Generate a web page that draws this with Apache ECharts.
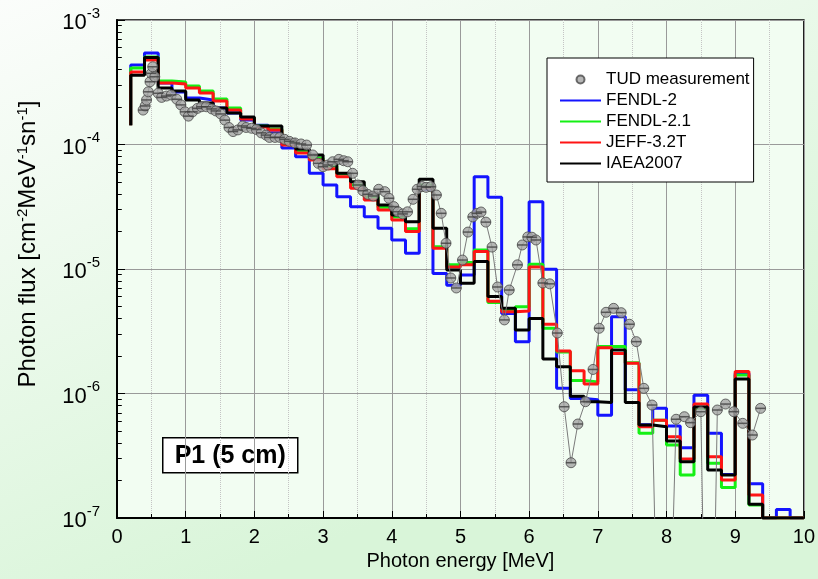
<!DOCTYPE html>
<html><head><meta charset="utf-8">
<script src="https://cdn.jsdelivr.net/npm/echarts@6/dist/echarts.min.js"></script>
<style>html,body{margin:0;padding:0;background:#fff}#c{width:818px;height:579px}</style>
</head><body><div id="c"></div>
<script>
// ---------- data ----------
const binEdges = [0.2,0.4,0.6,0.8,1.0,1.2,1.4,1.6,1.8,2.0,2.2,2.4,2.6,2.8,3.0,3.2,3.4,3.6,3.8,4.0,4.2,4.4,4.6,4.8,5.0,5.2,5.4,5.6,5.8,6.0,6.2,6.4,6.6,6.8,7.0,7.2,7.4,7.6,7.8,8.0,8.2,8.4,8.6,8.8,9.0,9.2,9.4,9.6,9.8,10.0];
const startFlux = 1.43e-4;
const fendl2 = [4.35e-4,5.43e-4,3.12e-4,2.64e-4,2.36e-4,2.28e-4,1.96e-4,1.79e-4,1.57e-4,1.43e-4,1.24e-4,9.37e-5,7.97e-5,5.87e-5,4.73e-5,3.81e-5,3.16e-5,2.63e-5,2.12e-5,1.71e-5,1.34e-5,4.37e-5,9.2e-6,7.4e-6,8.95e-6,5.5e-5,3.77e-5,4.4e-6,2.6e-6,3.47e-5,9.95e-6,1.1e-6,9.1e-7,8.9e-7,6.7e-7,4.14e-6,1.07e-6,5.6e-7,7.6e-7,5.48e-7,3.67e-7,9.7e-7,4.79e-7,2.24e-7,1.45e-6,1.88e-7,1e-7,1.17e-7,1e-7];
const fendl21 = [4.12e-4,5.04e-4,3.24e-4,3.18e-4,2.95e-4,2.69e-4,2.32e-4,1.96e-4,1.63e-4,1.41e-4,1.33e-4,1.05e-4,8.87e-5,7.79e-5,6.72e-5,5.79e-5,4.73e-5,3.79e-5,3.14e-5,2.62e-5,2.11e-5,4.73e-5,1.51e-5,1.08e-5,1.13e-5,1.42e-5,5.37e-6,4.7e-6,4.98e-6,1.09e-5,3.34e-6,2.15e-6,1.27e-6,1.24e-6,2.38e-6,2.38e-6,1.77e-6,4.79e-7,6.1e-7,3.86e-7,2.21e-7,7.6e-7,2.75e-7,1.76e-7,1.41e-6,1.27e-7,1e-7,1e-7,1e-7];
const jeff32t = [3.82e-4,4.77e-4,3.12e-4,3.06e-4,2.84e-4,2.59e-4,2.24e-4,1.89e-4,1.6e-4,1.38e-4,1.31e-4,9.9e-5,8.55e-5,7.5e-5,6.4e-5,5.5e-5,4.45e-5,3.58e-5,2.98e-5,2.48e-5,2.0e-5,4.5e-5,1.47e-5,1.04e-5,1.08e-5,1.38e-5,5.5e-6,4.54e-6,4.6e-6,1.04e-5,3.6e-6,2.19e-6,1.52e-6,1.19e-6,2.33e-6,2.1e-6,1.75e-6,5.4e-7,6.1e-7,4.5e-7,2.98e-7,8.25e-7,3.1e-7,2.02e-7,1.5e-6,1.53e-7,1e-7,1e-7,1e-7];
const iaea2007 = [3.6e-4,5.0e-4,2.84e-4,2.69e-4,2.28e-4,2.15e-4,1.96e-4,1.79e-4,1.66e-4,1.41e-4,1.41e-4,1.09e-4,9.2e-5,8.24e-5,7.06e-5,5.87e-5,5.03e-5,4.06e-5,3.27e-5,2.72e-5,2.4e-5,5.25e-5,2.12e-5,9.8e-6,7.7e-6,1.15e-5,6.0e-6,4.83e-6,3.24e-6,4.0e-6,1.89e-6,1.64e-6,9.5e-7,8.6e-7,8.45e-7,2.24e-6,8.45e-7,5.58e-7,5.4e-7,4.15e-7,2.83e-7,7.8e-7,2.43e-7,2.21e-7,1.31e-6,1.29e-7,1e-7,1e-7,1e-7];
const tudEnergy = [0.38,0.41,0.43,0.455,0.48,0.50,0.52,0.55,0.60,0.65,0.72,0.79,0.87,0.93,0.99,1.04,1.10,1.17,1.23,1.30,1.38,1.44,1.51,1.57,1.63,1.69,1.76,1.83,1.88,1.96,2.03,2.10,2.17,2.22,2.30,2.37,2.44,2.51,2.59,2.68,2.76,2.85,2.93,3.00,3.07,3.14,3.23,3.30,3.36,3.43,3.51,3.58,3.65,3.73,3.81,3.90,3.96,4.03,4.09,4.16,4.23,4.31,4.37,4.44,4.50,4.57,4.65,4.72,4.79,4.86,4.94,5.03,5.11,5.18,5.24,5.30,5.37,5.46,5.54,5.64,5.71,5.83,5.90,5.98,6.04,6.10,6.20,6.30,6.41,6.51,6.61,6.71,6.82,6.93,7.02,7.12,7.23,7.34,7.46,7.56,7.67,7.79,7.95,8.14,8.26,8.35,8.50,8.62,8.74,8.86,8.98,9.11,9.25,9.37];
const tudFlux = [1.89e-4,2.04e-4,2.28e-4,2.65e-4,3.19e-4,3.73e-4,4.21e-4,3.50e-4,2.58e-4,2.39e-4,2.45e-4,2.50e-4,2.31e-4,2.08e-4,1.83e-4,1.69e-4,1.83e-4,1.95e-4,2.01e-4,2.01e-4,1.93e-4,1.86e-4,1.76e-4,1.57e-4,1.37e-4,1.27e-4,1.31e-4,1.41e-4,1.37e-4,1.35e-4,1.32e-4,1.24e-4,1.19e-4,1.14e-4,1.14e-4,1.14e-4,1.10e-4,1.06e-4,1.03e-4,1.01e-4,9.9e-5,8.24e-5,7.06e-5,6.63e-5,6.84e-5,7.27e-5,7.60e-5,7.41e-5,7.27e-5,5.87e-5,4.73e-5,4.25e-5,3.98e-5,3.86e-5,4.37e-5,4.18e-5,3.70e-5,3.17e-5,2.88e-5,2.77e-5,2.88e-5,3.63e-5,4.37e-5,4.6e-5,4.53e-5,4.58e-5,3.93e-5,2.80e-5,1.61e-5,8.47e-6,7.04e-6,1.18e-5,1.98e-5,2.62e-5,2.8e-5,2.87e-5,2.38e-5,1.50e-5,7.17e-6,3.90e-6,6.78e-6,1.08e-5,1.56e-5,1.81e-5,1.8e-5,1.71e-5,7.72e-6,7.6e-6,3.06e-6,7.83e-7,2.78e-7,5.69e-7,8.59e-7,1.56e-6,3.34e-6,4.49e-6,4.83e-6,4.46e-6,3.60e-6,2.61e-6,1.10e-6,8.08e-7,1e-10,6.21e-7,6.51e-7,5.83e-7,7.14e-7,1e-10,7.37e-7,8.23e-7,7.14e-7,5.76e-7,4.64e-7,7.6e-7];
const xTickLabels = ['0','1','2','3','4','5','6','7','8','9','10'];
const yExponents = [-7,-6,-5,-4,-3];

// ---------- build ----------
const FONT = '"Liberation Sans", Arial, Helvetica, sans-serif';
function hist(vals){
  const pts = [[binEdges[0], startFlux]];
  vals.forEach((v,i)=>pts.push([binEdges[i], v]));
  pts.push([binEdges[binEdges.length-1], vals[vals.length-1]]);
  return pts;
}
const tudLine = tudEnergy.map((e,i)=>[e, tudFlux[i]]);
const tudPts = tudLine.filter(p=>p[1] >= 1e-7);

const minorVals = [];
for (let k=0;k<yExponents.length-1;k++){
  for (let m=2;m<=9;m++) minorVals.push(m*Math.pow(10, yExponents[k]));
}

function histSeries(name, vals, color, z){
  return {name, type:'line', data:hist(vals), step:'end', symbol:'none', showSymbol:false,
    lineStyle:{color, width:3}, itemStyle:{color}, z, animation:false, clip:true};
}
const hideSym = {opacity:0};

const chart = echarts.init(document.getElementById('c'), null, {renderer:'canvas'});
chart.setOption({
  animation:false,
  backgroundColor:{type:'linear',x:0,y:0,x2:0.3,y2:1,colorStops:[{offset:0,color:'#fbfdfb'},{offset:1,color:'#d9f5d9'}]},
  textStyle:{fontFamily:FONT},
  grid:{left:117,right:13,top:20,bottom:61,show:true,backgroundColor:'#f2fdf2',borderColor:'#000',borderWidth:1.5},
  legend:{
    orient:'vertical', left:547, top:58, padding:[13,4,10,12], itemGap:4, itemWidth:41, itemHeight:8,
    backgroundColor:'#fff', borderColor:'#000', borderWidth:1, selectedMode:false,
    textStyle:{fontSize:17, color:'#000', fontFamily:FONT},
    data:[
      {name:'TUD measurement'},
      {name:'FENDL-2', itemStyle:hideSym},
      {name:'FENDL-2.1', itemStyle:hideSym},
      {name:'JEFF-3.2T', itemStyle:hideSym},
      {name:'IAEA2007', itemStyle:hideSym}
    ]
  },
  xAxis:{
    type:'value', min:0, max:10, interval:1,
    name:'Photon energy [MeV]', nameLocation:'middle', nameGap:33,
    nameTextStyle:{fontSize:20, color:'#000', fontFamily:FONT},
    axisLine:{lineStyle:{color:'#000', width:2}},
    axisTick:{inside:true, length:7, lineStyle:{color:'#000', width:1}},
    minorTick:{show:true, splitNumber:2, length:4, lineStyle:{color:'#000'}},
    axisLabel:{fontSize:20, color:'#000', margin:9, formatter:(v)=>xTickLabels[Math.round(v)]},
    splitLine:{show:true, lineStyle:{color:'#9a9a9a', width:1}},
    minorSplitLine:{show:true, lineStyle:{color:'#c4c4c4', type:'dotted', width:1}}
  },
  yAxis:{
    type:'log', logBase:10, min:1e-7, max:1e-3, splitNumber:4,
    axisLine:{lineStyle:{color:'#000', width:2}},
    axisTick:{inside:true, length:8, lineStyle:{color:'#000', width:1}},
    axisLabel:{color:'#000', margin:17, formatter:(v)=>'{b|10}{s|' + Math.round(Math.log10(v)) + '}',
      rich:{b:{fontSize:22, lineHeight:28, verticalAlign:'bottom', fontFamily:FONT},
            s:{fontSize:15, lineHeight:28, verticalAlign:'top', fontFamily:FONT}}},
    splitLine:{show:true, lineStyle:{color:'#9a9a9a', width:1}}
  },
  graphic:[
    {type:'group', left:162, top:437, children:[
      {type:'rect', shape:{x:0,y:0,width:135,height:35}, style:{fill:'#fff', stroke:'#000', lineWidth:1.5}},
      {type:'text', x:67.5, y:18, style:{text:'P1 (5 cm)', font:'bold 25px '+FONT, fill:'#000', align:'center', verticalAlign:'middle'}}
    ]},
    {type:'text', x:28, y:244, rotation:Math.PI/2,
      style:{text:'Photon flux [cm{s|-2}MeV{s|-1}sn{s|-1}]', fontSize:24, fontFamily:FONT, fill:'#000',
        align:'center', verticalAlign:'middle',
        rich:{s:{fontSize:15, verticalAlign:'top', lineHeight:26, fontFamily:FONT}}}}
  ],
  series:[
    {type:'line', data:[], z:1, silent:true, symbol:'none',
      markLine:{silent:true, symbol:'none', animation:false, label:{show:false},
        lineStyle:{color:'#c4c4c4', type:'dotted', width:1},
        data: minorVals.map(v=>({yAxis:v}))
          .concat(minorVals.map(v=>[{coord:[0,v], lineStyle:{color:'#000', type:'solid', width:1}},{coord:[0.07,v]}]))}},
    histSeries('FENDL-2', fendl2, '#1414ff', 3),
    histSeries('FENDL-2.1', fendl21, '#14f014', 4),
    histSeries('JEFF-3.2T', jeff32t, '#ff1414', 5),
    histSeries('IAEA2007', iaea2007, '#000000', 6),
    {name:'tud-line', type:'line', data:tudLine, symbol:'none', showSymbol:false,
      lineStyle:{color:'#7a7a7a', width:1}, z:7, clip:true, animation:false},
    {name:'TUD measurement', type:'scatter', data:tudPts, symbol:'circle', symbolSize:10,
      itemStyle:{color:'#a4a4a4', borderColor:'#4a4a4a', borderWidth:1}, z:8, clip:true, animation:false},
    {name:'tud-bar', type:'scatter', data:tudPts, symbol:'rect', symbolSize:[10,1.5],
      itemStyle:{color:'#404040'}, z:9, clip:true, animation:false, silent:true}
  ]
});
</script></body></html>
